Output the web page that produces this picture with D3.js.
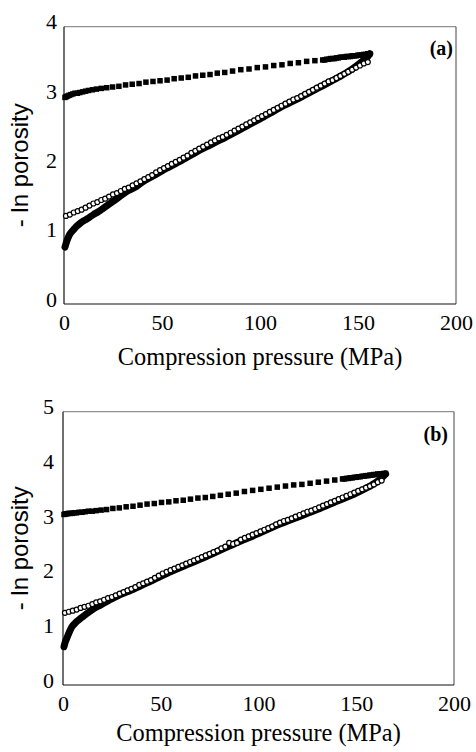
<!DOCTYPE html>
<html>
<head>
<meta charset="utf-8">
<script src="https://cdn.jsdelivr.net/npm/d3@7"></script>
<style>
  body { margin: 0; background: #fff; }
</style>
</head>
<body>
<div class="chart"></div>
<script>
// tick labels
var xTicks = [0, 50, 100, 150, 200];
var yTicksA = [0, 1, 2, 3, 4];
var yTicksB = [0, 1, 2, 3, 4, 5];

// panel (a): [pressure MPa, -ln porosity]
var loadA = [[0.5,0.82],[1,0.87],[2,0.95],[3,1.01],[4.5,1.06],[6.4,1.12],[8.5,1.17],[10.7,1.21],[13,1.25],[15,1.29],
  [17.5,1.33],[20,1.38],[22.5,1.43],[25,1.48],[28,1.54],[31.8,1.62],[36,1.68],[40,1.76],[45,1.84],[50,1.92],
  [60,2.07],[70,2.23],[80,2.37],[90,2.52],[100,2.67],[110,2.83],[120,2.97],[130,3.12],[140,3.27],[146,3.37],
  [150,3.45],[153,3.52],[155,3.57],[156,3.61]];

var fitA = [[1,1.27],[3,1.29],[5,1.32],[7,1.34],[9,1.36],[11,1.39],[13,1.42],[15,1.45],[17,1.47],[19,1.50],
  [21,1.52],[23,1.55],[25,1.58],[27,1.60],[29,1.63],[31,1.66],[33,1.68],[35,1.71],[37,1.74],[39,1.77],
  [41,1.80],[43,1.83],[45,1.86],[47,1.90],[49,1.93],[51,1.96],[53,1.99],[55,2.02],[57,2.05],[59,2.08],
  [61,2.11],[63,2.14],[65,2.18],[67,2.21],[69,2.24],[71,2.27],[73,2.30],[75,2.33],[77,2.36],[79,2.39],
  [81,2.41],[83,2.44],[85,2.47],[87,2.50],[89,2.53],[91,2.56],[93,2.59],[95,2.62],[97,2.65],[99,2.68],
  [101,2.71],[103,2.74],[105,2.77],[107,2.80],[109,2.83],[111,2.86],[113,2.89],[115,2.92],[117,2.95],[119,2.97],
  [121,3.00],[123,3.03],[125,3.06],[127,3.09],[129,3.12],[131,3.15],[133,3.18],[135,3.21],[137,3.23],[139,3.26],
  [141,3.29],[143,3.32],[145,3.35],[147,3.38],[149,3.41],[151,3.44],[153,3.47],[155,3.49]];

var unloadA = [[156,3.61],[155,3.61],[154,3.60],[153,3.60],[152,3.59],[151,3.59],[150,3.59],[149,3.58],[148,3.58],
  [147,3.58],[146,3.57],[145,3.57],[144,3.57],[143,3.56],[142,3.56],[141,3.56],[140,3.55],[139,3.55],[138,3.54],
  [137,3.54],[136,3.54],[135,3.53],[134,3.53],[133,3.52],[132,3.52],[128,3.51],[123.8,3.50],[119.6,3.48],
  [115.4,3.47],[111.2,3.45],[107,3.44],[102.8,3.42],[98.6,3.41],[94.4,3.39],[90.2,3.38],[86,3.36],[82,3.34],
  [78.2,3.33],[74.5,3.31],[70.8,3.30],[67.1,3.29],[63.4,3.27],[59.8,3.26],[56.2,3.25],[52.6,3.23],[49,3.22],
  [45.4,3.21],[41.8,3.20],[38.3,3.18],[34.8,3.17],[31.4,3.16],[28,3.14],[24.8,3.13],[21.8,3.12],[19,3.11],
  [16.5,3.10],[14.5,3.09],[12.5,3.08],[11,3.07],[9.5,3.06],[8,3.05],[6.8,3.04],[5.6,3.04],[4.5,3.03],
  [3.5,3.02],[2.6,3.01],[1.8,3.00],[1.1,2.99],[0.5,2.98]];

// panel (b)
var loadB = [[0.5,0.70],[1,0.77],[2,0.86],[3,0.95],[4.5,1.06],[7,1.16],[9,1.22],[11.3,1.28],[13.5,1.34],[15.5,1.39],
  [18,1.44],[20.6,1.49],[23,1.54],[25.7,1.59],[29,1.65],[32.5,1.70],[36,1.75],[40,1.82],[45,1.90],[50,1.99],
  [55,2.07],[60,2.15],[70,2.30],[80,2.46],[90,2.62],[100,2.77],[110,2.93],[120,3.07],[130,3.21],[140,3.36],
  [150,3.51],[155,3.60],[158,3.66],[161,3.73],[163,3.79],[165,3.86]];

var fitB = [[1,1.32],[3,1.34],[5,1.36],[7,1.38],[9,1.41],[11,1.43],[13,1.45],[15,1.48],[17,1.51],[19,1.53],
  [21,1.56],[23,1.59],[25,1.61],[27,1.64],[29,1.67],[31,1.70],[33,1.73],[35,1.76],[37,1.79],[39,1.83],
  [41,1.86],[43,1.89],[45,1.92],[47,1.96],[49,2.00],[51,2.04],[53,2.07],[55,2.10],[57,2.13],[59,2.16],
  [61,2.19],[63,2.22],[65,2.25],[67,2.28],[69,2.31],[71,2.34],[73,2.37],[75,2.40],[77,2.43],[79,2.46],
  [81,2.50],[83,2.53],[85,2.60],[87,2.58],[89,2.60],[91,2.66],[93,2.69],[95,2.72],[97,2.75],[99,2.78],
  [101,2.81],[103,2.84],[105,2.87],[107,2.90],[109,2.94],[111,2.97],[113,3.00],[115,3.02],[117,3.05],[119,3.08],
  [121,3.11],[123,3.14],[125,3.17],[127,3.19],[129,3.22],[131,3.25],[133,3.28],[135,3.31],[137,3.34],[139,3.37],
  [141,3.40],[143,3.43],[145,3.46],[147,3.49],[149,3.52],[151,3.55],[153,3.58],[155,3.61],[157,3.64],[159,3.67],
  [161,3.71],[163,3.74]];

var unloadB = [[165,3.87],[164,3.87],[163,3.86],[162,3.86],[161,3.86],[160,3.85],[159,3.85],[158,3.84],[157,3.84],
  [156,3.83],[155,3.83],[154,3.82],[153,3.82],[152,3.81],[151,3.81],[150,3.80],[149,3.80],[148,3.79],[147,3.79],
  [146,3.78],[145,3.78],[144,3.77],[143,3.77],[139,3.75],[134.8,3.73],[130.6,3.71],[126.4,3.69],[122.2,3.67],
  [118,3.66],[113.8,3.64],[109.6,3.62],[105.4,3.60],[101.2,3.58],[97,3.56],[92.8,3.54],[88.6,3.51],[84.5,3.49],
  [80.5,3.47],[76.6,3.45],[72.8,3.43],[69,3.42],[65.2,3.40],[61.5,3.38],[57.8,3.37],[54.1,3.35],[50.4,3.34],
  [46.7,3.32],[43,3.31],[39.4,3.29],[35.8,3.27],[32.3,3.26],[28.8,3.24],[25.5,3.23],[22.3,3.21],[19.5,3.20],
  [17,3.19],[15,3.18],[13,3.18],[11.3,3.17],[9.7,3.16],[8.2,3.16],[6.9,3.15],[5.7,3.15],[4.6,3.14],[3.6,3.14],
  [2.7,3.14],[1.9,3.13],[1.2,3.13],[0.5,3.12]];

var serif = '"Liberation Serif", "Times New Roman", Times, serif';
var sans = '"Liberation Sans", Arial, sans-serif';

var svg = d3.select('.chart')
    .append('svg')
    .attr('width', 476)
    .attr('height', 752);

function drawPanel(p) {
    var g = svg.append('g');
    var x = d3.scaleLinear().domain([0, 200]).range([p.left, p.right]);
    var y = d3.scaleLinear().domain([0, p.yMax]).range([p.bottom, p.top]);

    // frame: top/right lighter, left/bottom axis lines
    g.append('line').attr('x1', p.left).attr('x2', p.right).attr('y1', p.top).attr('y2', p.top)
        .attr('stroke', '#777').attr('stroke-width', 1);
    g.append('line').attr('x1', p.right).attr('x2', p.right).attr('y1', p.top).attr('y2', p.bottom)
        .attr('stroke', '#444').attr('stroke-width', 1);
    g.append('line').attr('x1', p.left).attr('x2', p.left).attr('y1', p.top).attr('y2', p.bottom)
        .attr('stroke', '#111').attr('stroke-width', 1.2);
    g.append('line').attr('x1', p.left).attr('x2', p.right).attr('y1', p.bottom).attr('y2', p.bottom)
        .attr('stroke', '#111').attr('stroke-width', 1.2);

    // loading curve (dense filled points -> thick line)
    g.append('path')
        .datum(p.load)
        .attr('d', d3.line().x(d => x(d[0])).y(d => y(d[1])).curve(d3.curveMonotoneX))
        .attr('fill', 'none')
        .attr('stroke', '#000')
        .attr('stroke-width', 7)
        .attr('stroke-linecap', 'round')
        .attr('stroke-linejoin', 'round');

    // open circles
    g.selectAll('circle.fit')
        .data(p.fit)
        .join('circle')
        .attr('class', 'fit')
        .attr('cx', d => x(d[0]))
        .attr('cy', d => y(d[1]))
        .attr('r', 2.5)
        .attr('fill', '#fff')
        .attr('stroke', '#000')
        .attr('stroke-width', 1.2);

    // unloading squares
    var s = 5.5;
    g.selectAll('rect.unload')
        .data(p.unload)
        .join('rect')
        .attr('class', 'unload')
        .attr('x', d => x(d[0]) - s / 2)
        .attr('y', d => y(d[1]) - s / 2)
        .attr('width', s)
        .attr('height', s)
        .attr('fill', '#000');

    // axes
    var xAxis = g.append('g')
        .attr('transform', 'translate(0,' + p.bottom + ')')
        .call(d3.axisBottom(x).tickValues(xTicks).tickSize(0).tickPadding(10));
    xAxis.select('.domain').remove();
    xAxis.attr('font-family', serif).attr('font-size', 22);
    xAxis.selectAll('text').attr('fill', '#000');

    var yAxis = g.append('g')
        .attr('transform', 'translate(' + p.left + ',0)')
        .call(d3.axisLeft(y).tickValues(p.yTicks).tickFormat(d3.format('d')).tickSize(0).tickPadding(p.yPad));
    yAxis.select('.domain').remove();
    yAxis.attr('font-family', serif).attr('font-size', 22);
    yAxis.selectAll('text').attr('fill', '#000').attr('dy', '0.1em');

    // titles
    g.append('text')
        .attr('x', (p.left + p.right) / 2)
        .attr('y', p.titleY)
        .attr('text-anchor', 'middle')
        .attr('font-family', serif)
        .attr('font-size', 24.4)
        .text('Compression pressure (MPa)');

    g.append('text')
        .attr('transform', 'translate(28,' + (p.top + p.bottom) / 2 + ') rotate(-90)')
        .attr('text-anchor', 'middle')
        .attr('font-family', sans)
        .attr('font-size', 24)
        .text('- ln porosity');

    g.append('text')
        .attr('x', p.tagX)
        .attr('y', p.tagY)
        .attr('text-anchor', 'end')
        .attr('font-family', serif)
        .attr('font-weight', 'bold')
        .attr('font-size', 20)
        .text(p.tag);
}

drawPanel({
    left: 64, right: 456, top: 26.7, bottom: 304, yMax: 4, yTicks: yTicksA, yPad: 7,
    load: loadA, fit: fitA, unload: unloadA,
    titleY: 365, tag: '(a)', tagX: 453, tagY: 55
});

drawPanel({
    left: 63, right: 454, top: 411.7, bottom: 685, yMax: 5, yTicks: yTicksB, yPad: 9,
    load: loadB, fit: fitB, unload: unloadB,
    titleY: 741, tag: '(b)', tagX: 448, tagY: 441
});
</script>
</body>
</html>
